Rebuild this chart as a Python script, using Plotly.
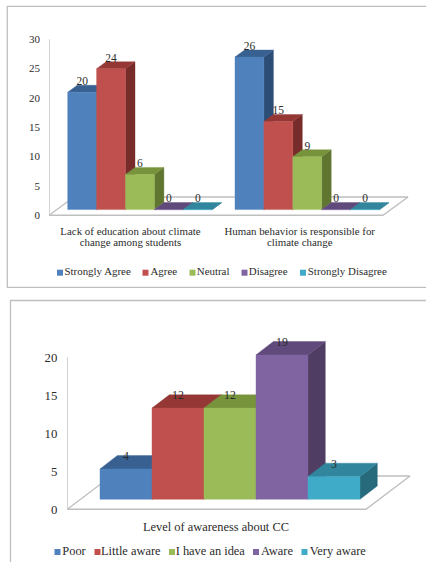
import plotly.graph_objects as go

WIDTH, HEIGHT = 426, 562
FONT = "Liberation Serif"
TEXT = "#2b2b2b"
EDGE = "#bfbfbf"
UPPER_SIZE = 10.9
LOWER_SIZE = 12.4

# Office palette: front, top and side face of each series
FRONT = ["#4f81bd", "#c0504d", "#9bbb59", "#8064a2", "#3fabc8"]
TOP = ["#386192", "#953735", "#77933c", "#604a7b", "#31859c"]
SIDE = ["#2c4d75", "#772c2a", "#5f7530", "#4f3d63", "#276a7c"]

# Upper chart
opinion_series = ["Strongly Agree", "Agree", "Neutral", "Disagree", "Strongly Disagree"]
opinion_education = [20, 24, 6, 0, 0]
opinion_behavior = [26, 15, 9, 0, 0]
opinion_ticks = [0, 5, 10, 15, 20, 25, 30]
opinion_labels = [
    ["Lack of education about climate", "change among students"],
    ["Human behavior is responsible for", "climate change"],
]

# Lower chart
awareness_series = ["Poor", "Little aware", "I have an idea", "Aware", "Very aware"]
awareness_values = [4, 12, 12, 19, 3]
awareness_ticks = [0, 5, 10, 15, 20]
awareness_label = "Level of awareness about CC"

fig = go.Figure()


def add_bars(xa, ya, start, values, dx, dy, lift):
    """Oblique box bars, painted left to right so each front hides its neighbour's side."""
    for i, v in enumerate(values):
        x0, x1 = start + i, start + i + 1
        y0, y1 = lift, lift + v
        faces = [
            ([x1, x1 + dx, x1 + dx, x1, x1], [y0, y0 + dy, y1 + dy, y1, y0], SIDE[i]),
            ([x0, x1, x1 + dx, x0 + dx, x0], [y1, y1, y1 + dy, y1 + dy, y1], TOP[i]),
            ([x0, x1, x1, x0, x0], [y0, y0, y1, y1, y0], FRONT[i]),
        ]
        for fx, fy, col in faces:
            fig.add_trace(go.Scatter(
                x=fx, y=fy, xaxis=xa, yaxis=ya, mode="lines", fill="toself",
                fillcolor=col, line=dict(color=col, width=0.4),
                hoverinfo="skip", showlegend=False,
            ))


def add_value_labels(xa, ya, start, values, lift, label_gap, size):
    fig.add_trace(go.Scatter(
        x=[start + i + 0.5 for i in range(len(values))],
        y=[lift + v + label_gap for v in values],
        text=[str(v) for v in values],
        xaxis=xa, yaxis=ya, mode="text", textposition="middle center",
        textfont=dict(family=FONT, size=size, color=TEXT),
        hoverinfo="skip", showlegend=False,
    ))


def add_floor(xa, ya, length, dx, dy, axis_top):
    # Floor outline, then the value axis rising from its front corner
    fig.add_trace(go.Scatter(
        x=[dx, 0, length, length + dx, dx],
        y=[dy, 0, 0, dy, dy],
        xaxis=xa, yaxis=ya, mode="lines",
        line=dict(color=EDGE, width=1.4),
        hoverinfo="skip", showlegend=False,
    ))
    fig.add_trace(go.Scatter(
        x=[0, 0], y=[0, axis_top], xaxis=xa, yaxis=ya, mode="lines",
        line=dict(color=EDGE, width=1.4),
        hoverinfo="skip", showlegend=False,
    ))


def add_key(names, squares, texts, y, size):
    fig.add_trace(go.Scatter(
        x=squares, y=[y] * len(names), xaxis="x3", yaxis="y3", mode="markers",
        marker=dict(symbol="square", size=6, color=FRONT[:len(names)]),
        hoverinfo="skip", showlegend=False,
    ))
    fig.add_trace(go.Scatter(
        x=texts, y=[y] * len(names), text=names, xaxis="x3", yaxis="y3",
        mode="text", textposition="middle right",
        textfont=dict(family=FONT, size=size, color=TEXT),
        hoverinfo="skip", showlegend=False,
    ))


# Upper chart: slot-based x axis, one slot per bar
SLOT_A = 28.9
UNIT_A = 176 / 30
add_floor("x", "y", 334 / SLOT_A, 25 / SLOT_A, 18.3 / UNIT_A, opinion_ticks[-1])
for start, vals in zip([18.7 / SLOT_A, 186 / SLOT_A], [opinion_education, opinion_behavior]):
    add_bars("x", "y", start, vals, 9.5 / SLOT_A, 7 / UNIT_A, 5.7 / UNIT_A)
    add_value_labels("x", "y", start, vals, 5.7 / UNIT_A, 10 / UNIT_A, 11.5)

# Lower chart
SLOT_B = 52
UNIT_B = 7.6
add_floor("x2", "y2", 298.7 / SLOT_B, 44 / SLOT_B, 33.3 / UNIT_B, awareness_ticks[-1])
add_bars("x2", "y2", 32.7 / SLOT_B, awareness_values, 17.3 / SLOT_B, 13.3 / UNIT_B, 10 / UNIT_B)
add_value_labels("x2", "y2", 32.7 / SLOT_B, awareness_values, 10 / UNIT_B, 11.7 / UNIT_B, 11.8)

# Keys and category captions on a full-page axis measured in pixels
add_key(opinion_series, [60, 145.5, 192.5, 244.5, 303], [64.5, 150.5, 196.8, 248.8, 307.8], 272.7, UPPER_SIZE)
add_key(awareness_series, [57.5, 97.5, 172, 256, 304.5], [62.3, 101, 175.7, 261, 309.7], 552, LOWER_SIZE)

caption_x, caption_y, caption_text = [], [], []
for cx, lines in zip([130.5, 299.7], opinion_labels):
    for ly, line in zip([232, 243.7], lines):
        caption_x.append(cx)
        caption_y.append(ly)
        caption_text.append(line)
fig.add_trace(go.Scatter(
    x=caption_x, y=caption_y, text=caption_text, xaxis="x3", yaxis="y3",
    mode="text", textposition="middle center",
    textfont=dict(family=FONT, size=UPPER_SIZE, color=TEXT),
    hoverinfo="skip", showlegend=False,
))
fig.add_trace(go.Scatter(
    x=[216], y=[527.7], text=[awareness_label], xaxis="x3", yaxis="y3",
    mode="text", textposition="middle center",
    textfont=dict(family=FONT, size=LOWER_SIZE, color=TEXT),
    hoverinfo="skip", showlegend=False,
))


def value_axis(zero_px, unit_px, top_px, bottom_px, ticks, anchor, size, standoff):
    # The plotting band reaches past the tick range so that box tops and the floor are not cut
    return dict(
        domain=[1 - bottom_px / HEIGHT, 1 - top_px / HEIGHT],
        range=[(zero_px - bottom_px) / unit_px, (zero_px - top_px) / unit_px],
        anchor=anchor, automargin=False,
        tickmode="array", tickvals=ticks, ticktext=[str(t) for t in ticks],
        tickfont=dict(family=FONT, size=size, color=TEXT), ticks="", ticklabelstandoff=standoff,
        showgrid=False, zeroline=False, showline=False,
    )


def slot_axis(left_px, slot_px, anchor):
    return dict(
        domain=[left_px / WIDTH, 1], range=[0, (WIDTH - left_px) / slot_px], anchor=anchor,
        automargin=False, showgrid=False, zeroline=False, showline=False,
        showticklabels=False, ticks="",
    )


fig.update_layout(
    width=WIDTH, height=HEIGHT, autosize=False,
    margin=dict(l=0, r=0, t=0, b=0),
    paper_bgcolor="white", plot_bgcolor="rgba(0,0,0,0)",
    showlegend=False,
    xaxis=slot_axis(49, SLOT_A, "y"),
    yaxis=value_axis(215.3, UNIT_A, 25, 222, opinion_ticks, "x", 11, 8),
    xaxis2=slot_axis(67.3, SLOT_B, "y2"),
    yaxis2=value_axis(509.3, UNIT_B, 330, 516, awareness_ticks, "x2", 12.8, 9),
    xaxis3=dict(domain=[0, 1], range=[0, WIDTH], anchor="y3", visible=False),
    yaxis3=dict(domain=[0, 1], range=[HEIGHT, 0], anchor="x3", visible=False),
    shapes=[
        # Chart frames; both run off the right edge of the page, the lower one off the bottom
        dict(type="rect", xref="paper", yref="paper", x0=7.3 / WIDTH, x1=1.05,
             y0=1 - 287.3 / HEIGHT, y1=1 - 6.3 / HEIGHT,
             line=dict(color=EDGE, width=1.3), layer="below"),
        dict(type="rect", xref="paper", yref="paper", x0=10.5 / WIDTH, x1=1.05,
             y0=-0.05, y1=1 - 300.5 / HEIGHT,
             line=dict(color=EDGE, width=1.3), layer="below"),
    ],
)

fig.write_html("out.html", config={"displayModeBar": False})
